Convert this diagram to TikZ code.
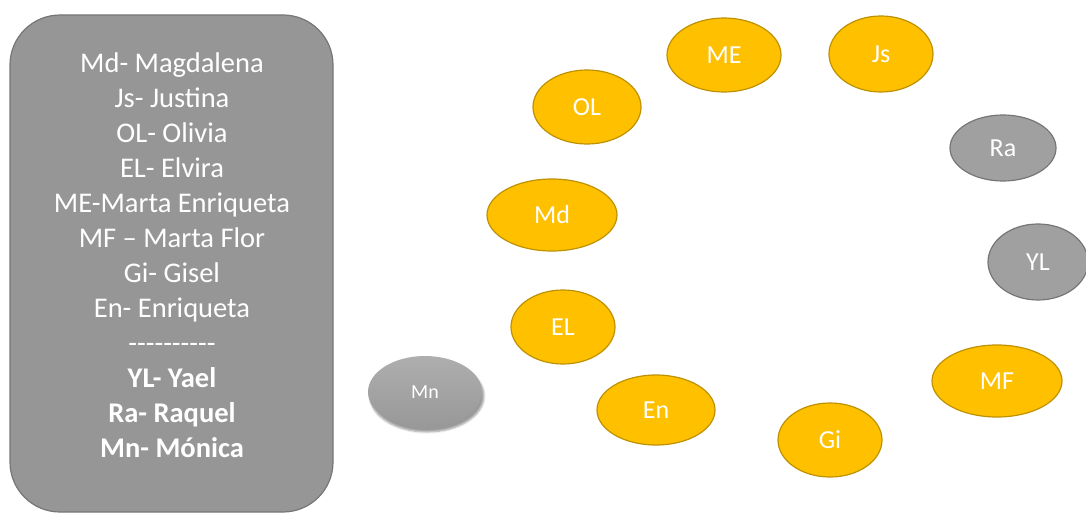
\documentclass[tikz,border=0pt]{standalone}
\usepackage{fontspec}
\setmainfont{Carlito}
\usetikzlibrary{shapes.geometric,shadows.blur}
\definecolor{boxgray}{RGB}{150,150,150}
\definecolor{boxedge}{RGB}{118,118,118}
\definecolor{ogold}{RGB}{255,192,0}
\definecolor{oedge}{RGB}{190,145,0}
\definecolor{egray}{RGB}{160,160,160}
\definecolor{eedge}{RGB}{118,118,118}
\tikzset{
  oell/.style={ellipse, fill=ogold, draw=oedge, line width=1.2pt, text=white, font=\fontsize{26}{28}\selectfont, inner sep=0pt},
  gell/.style={ellipse, fill=egray, draw=eedge, line width=1.2pt, text=white, font=\fontsize{26}{28}\selectfont, inner sep=0pt},
  legend/.style={rounded corners=50pt, fill=boxgray, draw=boxedge, line width=1.2pt},
  legtext/.style={text=white, align=center, font=\fontsize{28.5}{35}\selectfont}
}
\begin{document}
\begin{tikzpicture}[x=1pt,y=-1pt]
\useasboundingbox (0,0) rectangle (1086,516);
\node[legend, minimum width=323pt, minimum height=497pt] (box) at (171.5,263.5) {};
\node[legtext] (legtxt) at (172,255) {Md- Magdalena\\Js- Justina\\OL- Olivia\\EL- Elvira\\ME-Marta Enriqueta\\MF -- Marta Flor\\Gi- Gisel\\En- Enriqueta\\{-}{-}{-}{-}{-}{-}{-}{-}{-}{-}\\\textbf{YL- Yael}\\\textbf{Ra- Raquel}\\\textbf{Mn- Mónica}};
\node[oell, minimum width=114pt, minimum height=74pt] (ME) at (724,55) {ME};
\node[oell, minimum width=104pt, minimum height=76pt] (Js) at (881,54) {Js};
\node[oell, minimum width=108pt, minimum height=74pt] (OL) at (587,107) {OL};
\node[gell, minimum width=106pt, minimum height=66pt] (Ra) at (1003,148) {Ra};
\node[oell, minimum width=130pt, minimum height=72pt] (Md) at (552,215) {Md};
\node[gell, minimum width=100pt, minimum height=76pt] (YL) at (1038,262) {YL};
\node[oell, minimum width=104pt, minimum height=74pt] (EL) at (563,327) {EL};
\node[oell, minimum width=130pt, minimum height=72pt] (MF) at (997,381) {MF};
\node[oell, minimum width=118pt, minimum height=70pt] (En) at (656,410) {En};
\node[oell, minimum width=104pt, minimum height=74pt] (Gi) at (830,440) {Gi};
\node[ellipse, minimum width=114pt, minimum height=72pt, inner sep=0pt, text=white, font=\fontsize{20}{22}\selectfont, top color=egray!85!white, bottom color=egray!95!black, blur shadow={shadow xshift=2pt, shadow yshift=-4pt, shadow blur steps=6}] (Mn) at (425,392) {Mn};
\end{tikzpicture}
\end{document}
